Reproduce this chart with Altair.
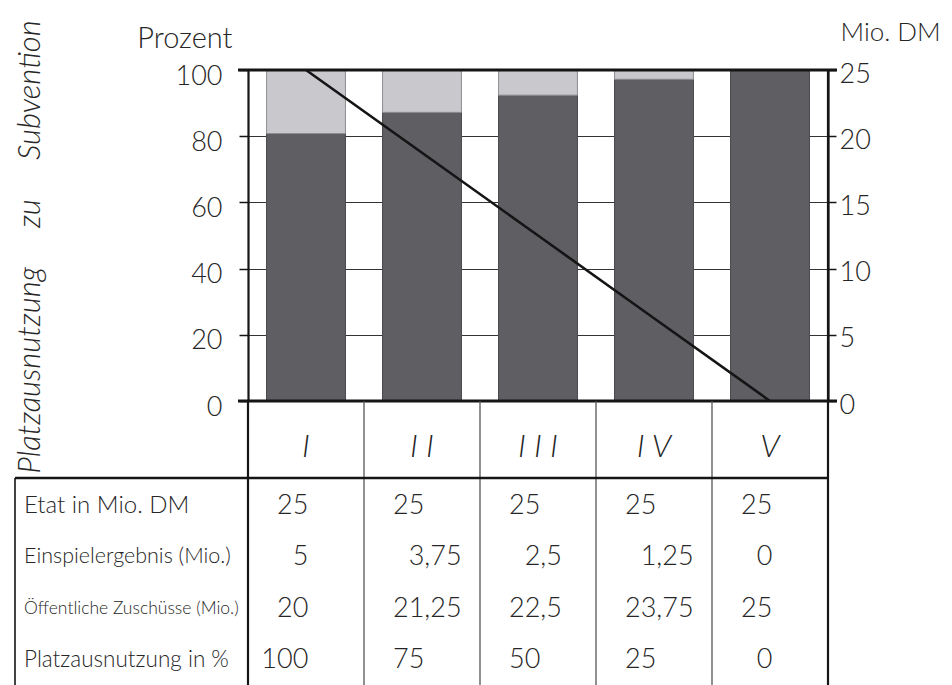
import altair as alt
import pandas as pd

# ---------------- data ----------------
categories = ["I", "II", "III", "IV", "V"]
category_labels = ["I", "I I", "I I I", "I V", "V"]

# stacked bar segments in Mio. DM (right axis)
bar_zuschuesse = [20.2, 21.8, 23.1, 24.3, 25.0]
bar_einspiel = [4.8, 3.2, 1.9, 0.7, 0.0]

# line: Platzausnutzung in % (left axis)
line_platz = [100, 75, 50, 25, 0]

left_ticks = [0, 20, 40, 60, 80, 100]
right_ticks = [0, 5, 10, 15, 20, 25]

NB = "\u00a0" * 5
side_title = ["Platzausnutzung" + NB + "zu" + NB + "Subvention"]

row_labels = [
    "Etat in Mio. DM",
    "Einspielergebnis (Mio.)",
    "Öffentliche Zuschüsse (Mio.)",
    "Platzausnutzung in %",
]
row_etat = ["25", "25", "25", "25", "25"]
row_einspiel = ["5", "3,75", "2,5", "1,25", "0"]
row_zuschuss = ["20", "21,25", "22,5", "23,75", "25"]
row_platz = ["100", "75", "50", "25", "0"]

# ---------------- style / layout ----------------
W, H = 580, 331
TABLE_TOP = 408
TABLE_END = 625
ROW_END = 614
BORDER_X = -233
LABEL_X = -224
CAT_Y = 377

SANS = "Lato"
TXT = "#262626"
INK = "#151515"
DARK, DARK_EDGE = "#5f5e63", "#47474b"
LIGHT, LIGHT_EDGE = "#c9c9cd", "#8e8e92"
label_sizes = [24, 21.5, 17.5, 22.5]

seg_names = ["Öffentliche Zuschüsse", "Einspielergebnis"]
bars_df = pd.DataFrame({
    "cat": categories + categories,
    "part": [seg_names[0]] * 5 + [seg_names[1]] * 5,
    "stackorder": [0] * 5 + [1] * 5,
    "mio": bar_zuschuesse + bar_einspiel,
})
line_df = pd.DataFrame({"cat": categories, "pct": line_platz})
edge_df = pd.DataFrame({"pct": [left_ticks[0], left_ticks[-1]]})
cat_df = pd.DataFrame({"cat": categories, "label": category_labels})
tbl_df = pd.DataFrame({
    "cat": categories * 4,
    "row": [r for r in row_labels for _ in categories],
    "val": row_etat + row_einspiel + row_zuschuss + row_platz,
})

def xband():
    return alt.Scale(domain=categories, paddingInner=0, paddingOuter=0)

x_enc = alt.X("cat:N", scale=xband(), axis=None)

right_axis = alt.Axis(
    orient="right", values=right_ticks, title="Mio. DM",
    titleAngle=0, titleAlign="left", titleBaseline="alphabetic", titleX=12, titleY=-30,
    titleFont=SANS, titleFontSize=26, titleFontWeight=300, titleColor=TXT,
    labelFont=SANS, labelFontSize=27, labelFontWeight=300, labelColor=TXT,
    labelPadding=3, labelOffset=4, labelFlush=False, labelOverlap=False,
    tickSize=8, tickWidth=1.5, tickColor=INK, domainColor=INK, domainWidth=2.2, grid=False,
)
left_axis = alt.Axis(
    orient="left", values=left_ticks, title="Prozent",
    titleAngle=0, titleAlign="right", titleBaseline="alphabetic", titleX=-16, titleY=-23,
    titleFont=SANS, titleFontSize=29, titleFontWeight=300, titleColor=TXT,
    labelFont=SANS, labelFontSize=27, labelFontWeight=300, labelColor=TXT,
    labelPadding=17, labelOffset=6, labelFlush=False, labelOverlap=False,
    tickSize=9, tickWidth=1.5, tickColor=INK, domainColor=INK, domainWidth=2.2,
    grid=True, gridColor="#333333", gridWidth=1.1,
)

bars = alt.Chart(bars_df).mark_bar(width=alt.RelativeBandSize(0.68), strokeWidth=1).encode(
    x=x_enc,
    y=alt.Y("mio:Q", stack="zero", scale=alt.Scale(domain=[0, 25], nice=False), axis=right_axis),
    color=alt.Color("part:N", scale=alt.Scale(domain=seg_names, range=[DARK, LIGHT]), legend=None),
    stroke=alt.Stroke("part:N", scale=alt.Scale(domain=seg_names, range=[DARK_EDGE, LIGHT_EDGE]), legend=None),
    order=alt.Order("stackorder:Q"),
)

pct_scale = alt.Scale(domain=[0, 100], nice=False)
line = alt.Chart(line_df).mark_line(color=INK, strokeWidth=2.6).encode(
    x=x_enc,
    y=alt.Y("pct:Q", scale=pct_scale, axis=left_axis),
)
edges = alt.Chart(edge_df).mark_rule(color=INK, strokeWidth=3).encode(
    y=alt.Y("pct:Q", scale=pct_scale, axis=left_axis),
    x=alt.value(-10),
    x2=alt.value(W + 9),
)
left_group = alt.layer(line, edges)

row_scale = alt.Scale(domain=row_labels, range=[TABLE_TOP, ROW_END], paddingInner=0, paddingOuter=0)
y_row = alt.Y("row:N", scale=row_scale, axis=None)

int_text = alt.Chart(tbl_df).transform_calculate(
    ipart="split(datum.val, ',')[0]"
).mark_text(align="right", baseline="middle", dy=2, font=SANS, fontWeight=300, fontSize=27, color=TXT).encode(
    x=alt.X("cat:N", scale=xband(), axis=None, bandPosition=0.52),
    y=y_row,
    text="ipart:N",
)
frac_text = alt.Chart(tbl_df).transform_calculate(
    fpart="indexof(datum.val, ',') >= 0 ? ',' + split(datum.val, ',')[1] : ''"
).mark_text(align="left", baseline="middle", dy=2, font=SANS, fontWeight=300, fontSize=27, color=TXT).encode(
    x=alt.X("cat:N", scale=xband(), axis=None, bandPosition=0.52),
    y=y_row,
    text="fpart:N",
)
label_layers = []
for lab, fs in zip(row_labels, label_sizes):
    label_layers.append(
        alt.Chart(pd.DataFrame({"row": [lab]})).mark_text(
            align="left", baseline="middle", dy=2, font=SANS, fontWeight=300, fontSize=fs, color=TXT
        ).encode(x=alt.value(LABEL_X), y=y_row, text="row:N")
    )
table_group = alt.layer(int_text, frac_text, *label_layers)

cat_text = alt.Chart(cat_df).mark_text(
    baseline="middle", font=SANS, fontStyle="italic", fontWeight=300, fontSize=32, color=TXT
).encode(x=x_enc, y=alt.value(CAT_Y), text="label:N")

title_text = alt.Chart(pd.DataFrame({"t": side_title})).mark_text(
    angle=270, align="center", baseline="alphabetic",
    font=SANS, fontStyle="italic", fontWeight=300, fontSize=31, color=TXT,
).encode(x=alt.value(-208), y=alt.value(177), text="t:N")

outer_sep = alt.layer(
    alt.Chart(pd.DataFrame({"cat": [categories[0]]})).mark_rule(color=INK, strokeWidth=2.2).encode(
        x=alt.X("cat:N", scale=xband(), axis=None, bandPosition=0), y=alt.value(H), y2=alt.value(TABLE_END)),
    alt.Chart(pd.DataFrame({"cat": [categories[-1]]})).mark_rule(color=INK, strokeWidth=2.2).encode(
        x=alt.X("cat:N", scale=xband(), axis=None, bandPosition=1), y=alt.value(0), y2=alt.value(TABLE_END)),
)
inner_sep = alt.Chart(pd.DataFrame({"cat": categories[1:]})).mark_rule(color="#555555", strokeWidth=1.3).encode(
    x=alt.X("cat:N", scale=xband(), axis=None, bandPosition=0), y=alt.value(H), y2=alt.value(TABLE_END))
table_frame = alt.layer(
    alt.Chart(pd.DataFrame({"cat": [categories[0]]})).mark_rule(color=INK, strokeWidth=2.4).encode(
        x=alt.value(BORDER_X), x2=alt.value(W), y=alt.value(TABLE_TOP)),
    alt.Chart(pd.DataFrame({"cat": [categories[0]]})).mark_rule(color=INK, strokeWidth=1.6).encode(
        x=alt.value(BORDER_X), y=alt.value(TABLE_TOP), y2=alt.value(TABLE_END)),
)

chart = alt.layer(
    bars, left_group, table_group, cat_text, title_text, inner_sep, outer_sep, table_frame
).resolve_scale(y="independent").properties(
    width=W, height=H,
    padding={"left": 5, "top": 11, "right": 0, "bottom": 0},
).configure_view(strokeWidth=0)

chart.save("out.html", embed_options={"renderer": "svg", "actions": False})
